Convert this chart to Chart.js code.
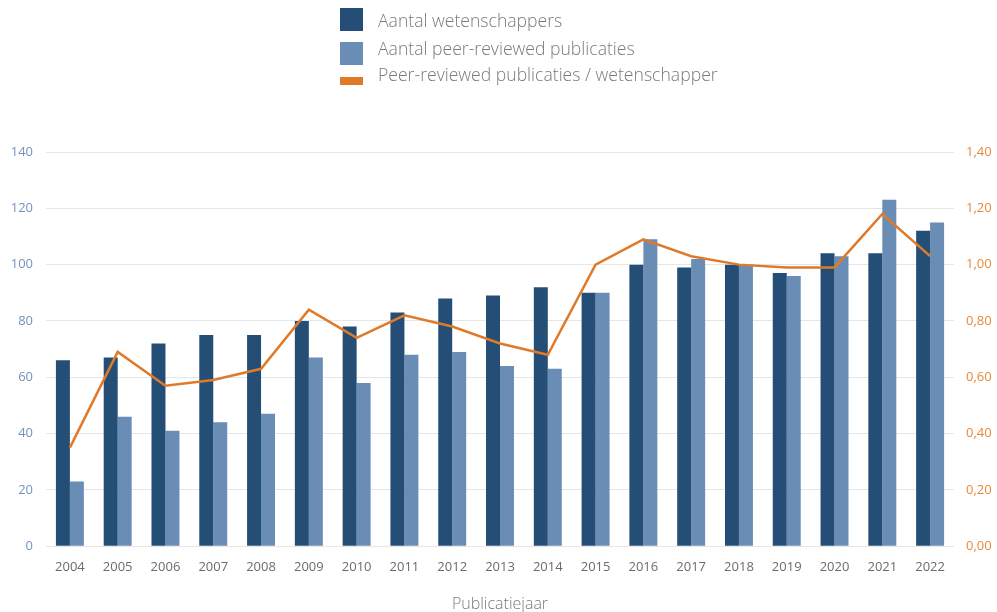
<!DOCTYPE html>
<html lang="nl">
<head>
<meta charset="utf-8">
<title>Wetenschappers en publicaties</title>
<script src="https://cdn.jsdelivr.net/npm/chart.js@4.4.1/dist/chart.umd.min.js"></script>
<style>
  html, body { margin: 0; padding: 0; background: #fff; }
  #wrap { position: relative; width: 997px; height: 612px; }
  #grafiek { position: absolute; left: 0; top: 0; }
  #legenda {
    position: absolute; left: 340px; top: 0;
    font-family: "Open Sans", sans-serif; font-weight: 300;
    font-size: 17.6px; color: #7a7a7a;
  }
  .box { position: absolute; left: 0; width: 23px; height: 23px; }
  .txt { position: absolute; left: 38px; white-space: nowrap; line-height: 24px; }
</style>
</head>
<body>
<div id="wrap">
  <canvas id="grafiek" width="997" height="612"></canvas>
  <div id="legenda"></div>
</div>
<script>
// Jaren en waarden
const jaren = ['2004', '2005', '2006', '2007', '2008', '2009', '2010', '2011', '2012', '2013',
               '2014', '2015', '2016', '2017', '2018', '2019', '2020', '2021', '2022'];
const wetenschappers = [66, 67, 72, 75, 75, 80, 78, 83, 88, 89, 92, 90, 100, 99, 100, 97, 104, 104, 112];
const publicaties    = [23, 46, 41, 44, 47, 67, 58, 68, 69, 64, 63, 90, 109, 102, 100, 96, 103, 123, 115];
const perWetenschapper = [0.35, 0.69, 0.57, 0.59, 0.63, 0.84, 0.74, 0.82, 0.78, 0.72,
                          0.68, 1.00, 1.09, 1.03, 1.00, 0.99, 0.99, 1.18, 1.03];
const linksTicks = [0, 20, 40, 60, 80, 100, 120, 140];
const rechtsTicks = [0, 0.2, 0.4, 0.6, 0.8, 1.0, 1.2, 1.4];

const kleurDonker = '#254e76';
const kleurLicht = '#6a8db5';
const kleurOranje = '#e07a2b';

// legenda: blokje (top, hoogte) en tekst (top) per reeks
const reeksen = [
  { label: 'Aantal wetenschappers', kleur: kleurDonker, box: [8, 23], tekst: 8 },
  { label: 'Aantal peer-reviewed publicaties', kleur: kleurLicht, box: [42, 23], tekst: 36 },
  { label: 'Peer-reviewed publicaties / wetenschapper', kleur: kleurOranje, box: [77, 8], tekst: 62 }
];

const legenda = document.getElementById('legenda');
reeksen.forEach(r => {
  legenda.innerHTML += `
    <div class="box" style="background:${r.kleur};top:${r.box[0]}px;height:${r.box[1]}px"></div>
    <div class="txt" style="top:${r.tekst}px">${r.label}</div>`;
});

const tickFont = { family: '"Open Sans", sans-serif', size: 13 };

new Chart(document.getElementById('grafiek'), {
  data: {
    labels: jaren,
    datasets: [
      {
        type: 'line',
        label: reeksen[2].label,
        data: perWetenschapper,
        yAxisID: 'y2',
        borderColor: kleurOranje,
        borderWidth: 2.5,
        pointRadius: 0,
        tension: 0,
        order: 0
      },
      {
        type: 'bar',
        label: reeksen[0].label,
        data: wetenschappers,
        yAxisID: 'y',
        backgroundColor: kleurDonker,
        categoryPercentage: 0.585,
        barPercentage: 1,
        order: 1
      },
      {
        type: 'bar',
        label: reeksen[1].label,
        data: publicaties,
        yAxisID: 'y',
        backgroundColor: kleurLicht,
        categoryPercentage: 0.585,
        barPercentage: 1,
        order: 1
      }
    ]
  },
  options: {
    responsive: false,
    animation: false,
    layout: { padding: { top: 152, left: 0, right: 0, bottom: 0 } },
    plugins: {
      legend: { display: false },
      tooltip: { enabled: false }
    },
    scales: {
      x: {
        grid: { display: false },
        border: { display: false },
        ticks: { color: '#6b6b6b', font: tickFont, padding: 5, maxRotation: 0 },
        title: {
          display: true,
          text: 'Publicatiejaar',
          color: '#7a7a7a',
          font: { family: '"Open Sans", sans-serif', size: 16, weight: 300 },
          padding: { top: 15, bottom: -2 }
        }
      },
      y: {
        position: 'left',
        min: 0,
        max: 140,
        afterBuildTicks: axis => { axis.ticks = linksTicks.map(v => ({ value: v })); },
        afterFit: axis => { axis.width = 46; },
        grid: { color: '#e6e6e6', drawTicks: false },
        border: { display: false },
        ticks: { color: '#7393be', font: tickFont, padding: 13 }
      },
      y2: {
        position: 'right',
        min: 0,
        max: 1.4,
        afterBuildTicks: axis => { axis.ticks = rechtsTicks.map(v => ({ value: v })); },
        afterFit: axis => { axis.width = 43; },
        grid: { drawOnChartArea: false, drawTicks: false },
        border: { display: false },
        ticks: {
          color: '#e8893a',
          font: tickFont,
          padding: 12,
          callback: v => v.toFixed(2).replace('.', ',')
        }
      }
    }
  }
});
</script>
</body>
</html>
